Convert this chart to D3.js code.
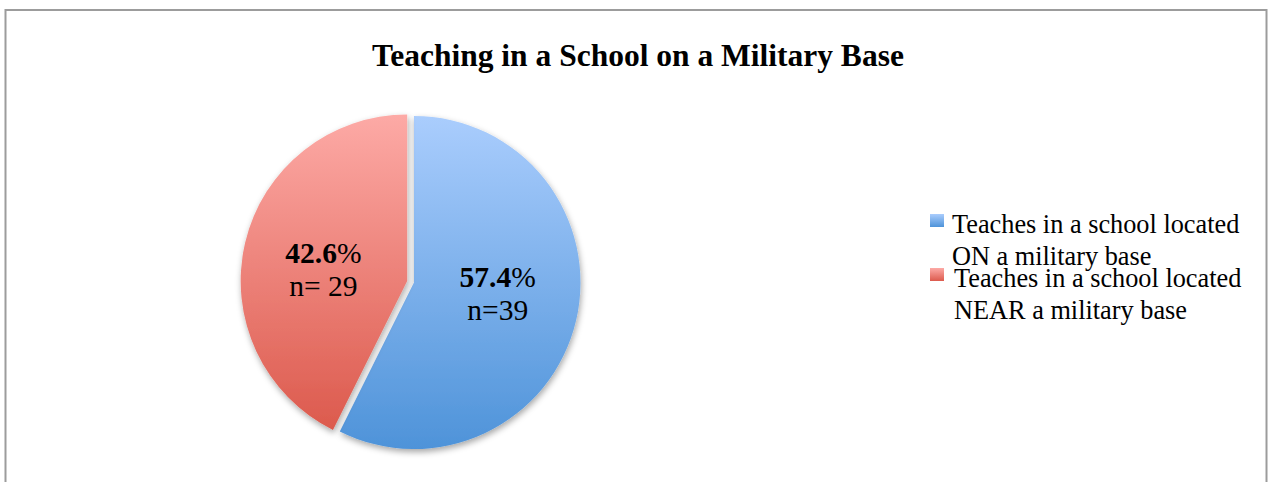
<!DOCTYPE html>
<html>
<head>
<meta charset="utf-8">
<script src="https://cdn.jsdelivr.net/npm/d3@7"></script>
<style>
  html, body { margin: 0; padding: 0; background: #fff; }
  svg { display: block; }
</style>
</head>
<body>
<svg id="chart" width="1272" height="482"></svg>
<script>
// ---- data ----
const categories = ["Teaches in a school located ON a military base", "Teaches in a school located NEAR a military base"];
const counts = [39, 29];
const percentLabels = ["57.4%", "42.6%"];
const countLabels = ["n=39", "n= 29"];
const legendLines = [["Teaches in a school located", "ON a military base"], ["Teaches in a school located", "NEAR a military base"]];
const title = "Teaching in a School on a Military Base";

const gradTop = ["#aacdfd", "#fdaaa6"];
const gradBottom = ["#4e93d9", "#dc5a4d"];
const explode = [0, 7];

const svg = d3.select("#chart");
const font = "'Liberation Serif', 'Times New Roman', serif";

// frame
svg.append("rect").attr("x", 5.5).attr("y", 10).attr("width", 1261).attr("height", 520)
  .attr("fill", "#fff").attr("stroke", "#9c9c9c").attr("stroke-width", 2);

const defs = svg.append("defs");
const flt = defs.append("filter").attr("id", "shadow").attr("x", "-20%").attr("y", "-20%").attr("width", "140%").attr("height", "140%");
flt.append("feDropShadow").attr("dx", 1).attr("dy", 3).attr("stdDeviation", 3)
  .attr("flood-color", "#000").attr("flood-opacity", 0.35);

categories.forEach((c, i) => {
  const g = defs.append("linearGradient").attr("id", "grad" + i)
    .attr("x1", 0).attr("y1", 0).attr("x2", 0).attr("y2", 1);
  g.append("stop").attr("offset", "0%").attr("stop-color", gradTop[i]);
  g.append("stop").attr("offset", "100%").attr("stop-color", gradBottom[i]);
});

// title
svg.append("text").attr("x", 638).attr("y", 66).attr("text-anchor", "middle")
  .attr("font-family", font).attr("font-weight", "bold").attr("font-size", 31.5)
  .attr("fill", "#000").text(title);

// pie
const cx = 414, cy = 282.5, r = 166.5;
const pie = d3.pie().sort(null).value(d => d)(counts);
const arc = d3.arc().innerRadius(0).outerRadius(r);

const gPie = svg.append("g").attr("transform", `translate(${cx},${cy})`);
const slices = gPie.selectAll("g.slice").data(pie).enter().append("g")
  .attr("class", "slice")
  .attr("transform", (d, i) => {
    const mid = (d.startAngle + d.endAngle) / 2;
    return `translate(${Math.sin(mid) * explode[i]},${-Math.cos(mid) * explode[i]})`;
  });

slices.append("path").attr("d", arc).attr("fill", (d, i) => `url(#grad${i})`)
  .attr("filter", "url(#shadow)");

slices.each(function(d, i) {
  const mid = (d.startAngle + d.endAngle) / 2;
  const Rx = 86, Ry = 49;
  const lx = Math.sin(mid) * Rx, ly = -Math.cos(mid) * Ry;
  const t = d3.select(this).append("text").attr("font-family", font).attr("font-size", 29.5)
    .attr("fill", "#000").attr("text-anchor", "middle");
  const p = percentLabels[i];
  t.append("tspan").attr("x", lx).attr("y", ly - 7)
    .attr("font-weight", "bold").text(p.replace("%", ""));
  t.append("tspan").text("%");
  t.append("tspan").attr("x", lx).attr("y", ly + 26).text(countLabels[i]);
});

// legend
const legendY = [214, 268];
const leg = svg.append("g");
categories.forEach((c, i) => {
  leg.append("rect").attr("x", 930).attr("y", legendY[i]).attr("width", 14).attr("height", 13)
    .attr("fill", `url(#grad${i})`);
  const t = leg.append("text").attr("font-family", font).attr("font-size", 26.3).attr("fill", "#000");
  legendLines[i].forEach((ln, j) => {
    t.append("tspan").attr("x", 952 + i * 2).attr("y", legendY[i] + 19 + j * 32).text(ln);
  });
});
</script>
</body>
</html>
